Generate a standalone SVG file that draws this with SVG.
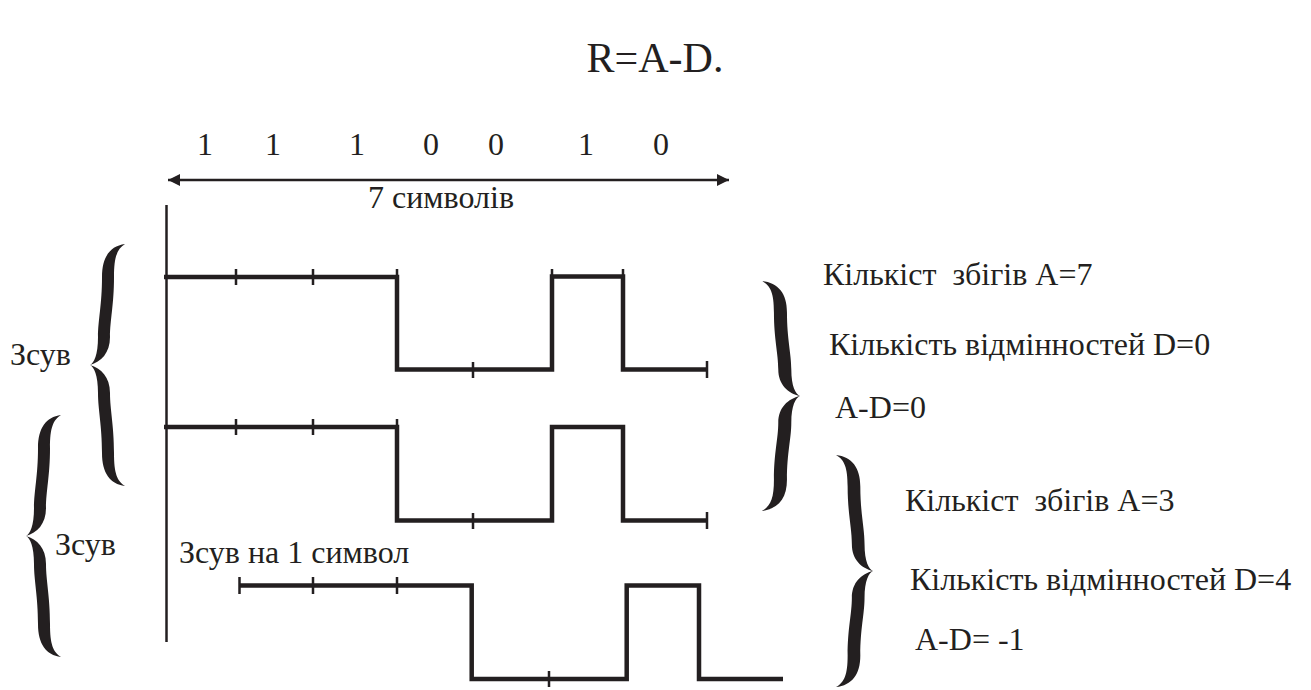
<svg xmlns="http://www.w3.org/2000/svg" xmlns:xlink="http://www.w3.org/1999/xlink" width="1311" height="690" viewBox="0 0 1311 690" font-family="Liberation Serif, serif">
  <style>
    text { font-family: "Liberation Serif", serif; font-size: 32px; fill: #231f20; }
    .title { font-size: 42px; }
    .wave { fill: none; stroke: #231f20; stroke-width: 4.5; stroke-linejoin: miter; stroke-linecap: butt; }
    .tick { stroke: #231f20; stroke-width: 2.5; fill: none; }
    .axis { stroke: #231f20; stroke-width: 2.5; fill: none; }
    .brace { fill: #231f20; }
  </style>
  <defs>
    <!-- curly brace "{" with its point at the origin, ends at (35, ±121) -->
    <path id="brace" class="brace" d="M35,-121 C20,-119 12,-108 12,-88 C12,-60 8,-45 8,-28 C8,-10 4,-2 0,0 C4,2 8,10 8,28 C8,45 12,60 12,88 C12,108 20,119 35,121 C27,116 24,108 24,88 C24,60 20,45 20,28 C20,12 11,3 0,0 C11,-3 20,-12 20,-28 C20,-45 24,-60 24,-88 C24,-108 27,-116 35,-121 Z"/>
    <marker id="arrowhead" viewBox="0 0 12 12" refX="12" refY="6" markerWidth="12" markerHeight="12" markerUnits="userSpaceOnUse" orient="auto-start-reverse">
      <path d="M0,0 L12,6 L0,12 Z" fill="#231f20"/>
    </marker>
  </defs>

  <rect width="1311" height="690" fill="#ffffff"/>

  <g id="title">
    <text class="title" x="655" y="72" text-anchor="middle">R=A-D.</text>
  </g>

  <g id="bits">
    <text x="205" y="155" text-anchor="middle">1</text>
    <text x="273" y="155" text-anchor="middle">1</text>
    <text x="357" y="155" text-anchor="middle">1</text>
    <text x="431" y="155" text-anchor="middle">0</text>
    <text x="496" y="155" text-anchor="middle">0</text>
    <text x="586" y="155" text-anchor="middle">1</text>
    <text x="661" y="155" text-anchor="middle">0</text>
  </g>

  <g id="connectors">
    <line class="axis" x1="168" y1="180" x2="729" y2="180" marker-start="url(#arrowhead)" marker-end="url(#arrowhead)"/>
    <line class="axis" x1="166.5" y1="205" x2="166.5" y2="642"/>
  </g>

  <g id="span-label">
    <text x="441" y="208" text-anchor="middle">7 символів</text>
  </g>

  <!-- reference sequence -->
  <g id="signal-1">
    <path class="wave" d="M164,277 H397 V369.5 H552 V276.5 H623 V369.5 H707"/>
    <path class="tick" d="M236,269 V285 M313,269 V285 M397,269 V277 M552,269 V277 M623,269 V277 M473,362 V378 M707,361 V378"/>
  </g>

  <!-- copy of the sequence -->
  <g id="signal-2">
    <path class="wave" d="M164,427 H397 V520.5 H552 V427 H623 V520.5 H707"/>
    <path class="tick" d="M236,419 V435 M313,419 V435 M397,419 V427 M473,513 V529 M707,512 V529"/>
  </g>

  <!-- sequence shifted by one symbol -->
  <g id="signal-3">
    <text x="179" y="563">Зсув на 1 символ</text>
    <path class="wave" d="M239,585.5 H471.7 V679 H626.7 V585.5 H699 V679 H783"/>
    <path class="tick" d="M239.5,577 V594 M313,577 V594 M397,577 V594 M549,671 V687"/>
  </g>

  <g id="shift-upper">
    <use xlink:href="#brace" transform="translate(90,365)"/>
    <text x="10" y="365">Зсув</text>
  </g>

  <g id="shift-lower">
    <use xlink:href="#brace" transform="translate(26,536)"/>
    <text x="55" y="555">Зсув</text>
  </g>

  <g id="result-0">
    <use xlink:href="#brace" transform="translate(800,396) scale(-1.086,0.95)"/>
    <text x="823" y="285" xml:space="preserve">Кількіст  збігів A=7</text>
    <text x="829" y="355">Кількість відмінностей D=0</text>
    <text x="835" y="418">A-D=0</text>
  </g>

  <g id="result-1">
    <use xlink:href="#brace" transform="translate(873,571) scale(-1.057,0.959)"/>
    <text x="905" y="511" xml:space="preserve">Кількіст  збігів A=3</text>
    <text x="910" y="590">Кількість відмінностей D=4</text>
    <text x="915" y="650">A-D= -1</text>
  </g>
</svg>
